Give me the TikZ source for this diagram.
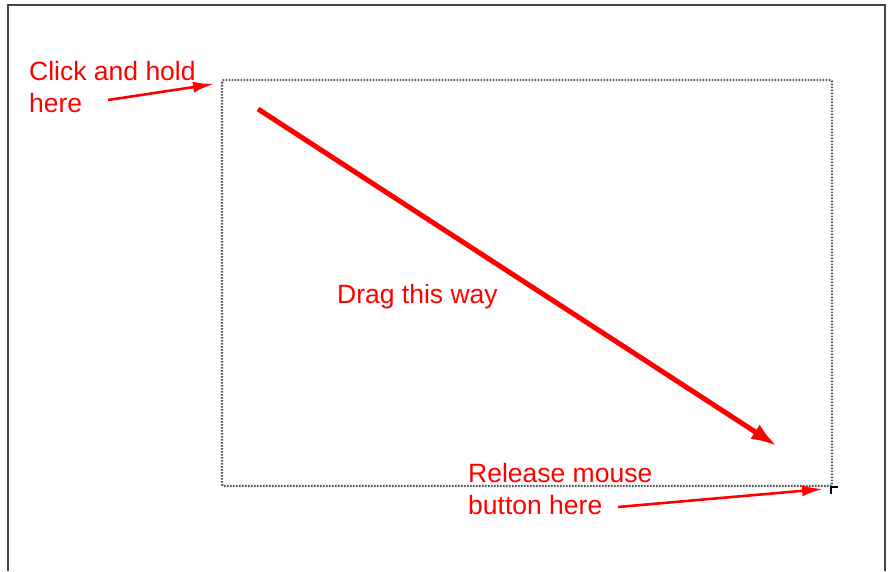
\documentclass[tikz,border=0pt]{standalone}
\usepackage{fontspec}
\setmainfont{Liberation Sans}
\usetikzlibrary{arrows.meta}

\definecolor{framegray}{RGB}{70,70,70}
\definecolor{dotgray}{RGB}{85,85,85}

\tikzset{
	note/.style={text=red, font=\fontsize{26.5}{32}\selectfont, align=left, inner sep=0pt, anchor=north west},
	pointer/.style={red, line width=2.6pt, -{Latex[length=21pt,width=11pt]}},
	dragline/.style={red, line width=5pt, -{Latex[length=26pt,width=17pt]}},
	selbox/.style={dotgray, line width=2.2pt, dash pattern=on 1.6pt off 1.4pt, rounded corners=2pt}
}

\begin{document}
\begin{tikzpicture}[x=1pt,y=-1pt]
	\useasboundingbox (0,0) rectangle (892,571);
	% Window frame
	\draw[framegray, line width=2pt] (8,571) -- (8,5) -- (885,5) -- (885,571);

	% Selection rectangle
	\coordinate (tl) at (222,80);
	\coordinate (br) at (832,486);
	\draw[selbox] (tl) rectangle (br);
	\draw[black, line width=2.2pt] (830,487) -- (838,487);
	\draw[black, line width=2.2pt] (831,486) -- (831,494);

	% Labels
	\node[note] (click) at (29,61) {Click and hold\\here};
	\node[note] (drag) at (337,284) {Drag this way};
	\node[note] (release) at (468,463) {Release mouse\\button here};

	% Arrows
	\coordinate (clickfrom) at (108,100);
	\coordinate (clickto) at (214,84);
	\draw[pointer] (clickfrom) -- (clickto);

	\coordinate (dragfrom) at (258,109);
	\coordinate (dragto) at (777,446);
	\draw[dragline] (dragfrom) -- (dragto);

	\coordinate (relfrom) at (618,507);
	\coordinate (relto) at (823,489);
	\draw[pointer] (relfrom) -- (relto);
\end{tikzpicture}
\end{document}
